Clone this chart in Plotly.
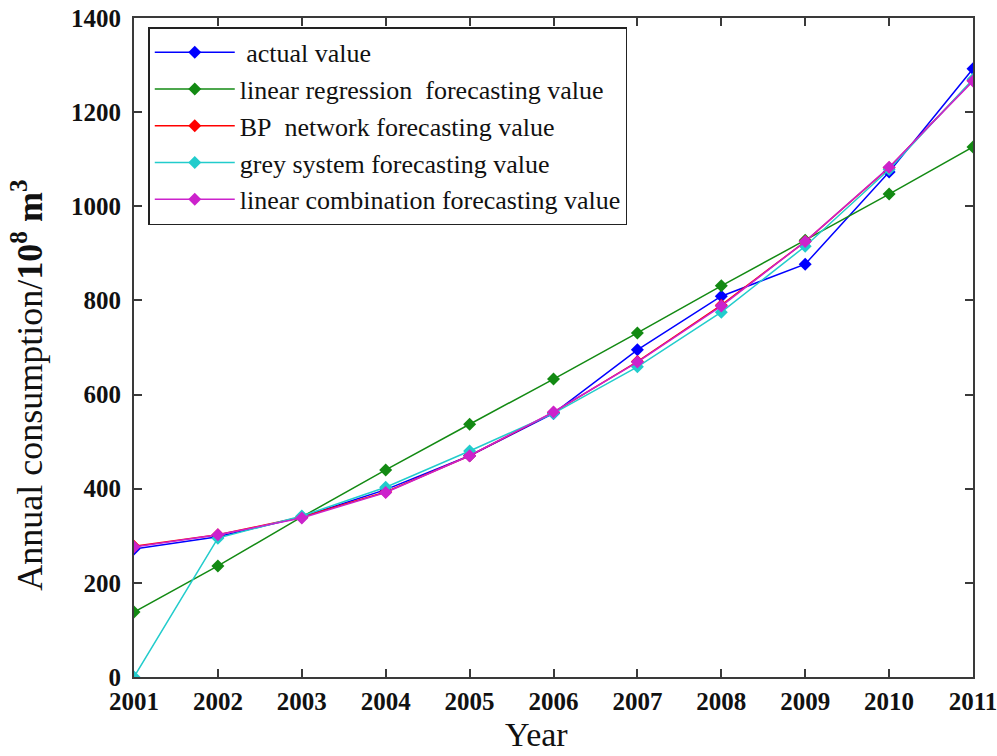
import plotly.graph_objects as go

years = [2001, 2002, 2003, 2004, 2005, 2006, 2007, 2008, 2009, 2010, 2011]

actual_value = [272, 298, 340, 398, 470, 560, 695, 809, 877, 1073, 1292]
linear_regression = [138, 236, 340, 440, 537, 633, 731, 831, 928, 1026, 1126]
bp_network = [278, 302, 340, 393, 470, 562, 670, 790, 925, 1082, 1268]
grey_system = [0, 295, 342, 403, 480, 560, 659, 775, 915, 1078, 1270]
linear_combination = [276, 302, 338, 392, 470, 563, 669, 788, 925, 1083, 1266]

series = [
    ("\u00a0actual value", actual_value, "#0000ff"),
    ("linear regression\u00a0 forecasting value", linear_regression, "#138a13"),
    ("BP\u00a0 network forecasting value", bp_network, "#ff0000"),
    ("grey system forecasting value", grey_system, "#22cccc"),
    ("linear combination forecasting value", linear_combination, "#cc22cc"),
]

fig = go.Figure()
for i, (name, vals, color) in enumerate(series):
    fig.add_trace(go.Scatter(
        x=years, y=vals, name=name, mode="lines+markers",
        legendgroup=f"g{i}",
        line=dict(color=color, width=1.5),
        marker=dict(symbol="diamond", size=10, color=color),
    ))

serif = "Liberation Serif"

axis_common = dict(
    showline=True, linecolor="#3a3a3a", linewidth=2, mirror="ticks",
    ticks="inside", ticklen=8, tickwidth=1.5, tickcolor="#3a3a3a",
    showgrid=False, zeroline=False, automargin=False,
    ticklabeloverflow="allow",
    tickfont=dict(family=serif, size=25, color="#111111", weight="bold"),
)

fig.update_xaxes(range=[2001, 2011], tickvals=years, ticklabelstandoff=1, **axis_common)
fig.update_yaxes(range=[0, 1400], tickvals=list(range(0, 1401, 200)),
                 ticklabelstandoff=6, **axis_common)

fig.update_layout(
    width=997, height=756,
    margin=dict(l=134, r=24, t=18, b=79),
    plot_bgcolor="white", paper_bgcolor="white",
    showlegend=True,
    legend=dict(
        x=0.017, y=0.986, xanchor="left", yanchor="top",
        bordercolor="#222222", borderwidth=1.5, bgcolor="white",
        font=dict(family=serif, size=26, color="#111111"),
        tracegroupgap=0, itemwidth=80,
    ),
    annotations=[
        dict(text="Annual consumption/<b>10<sup>8</sup> m<sup>3</sup></b>",
             xref="paper", yref="paper", x=-0.128, y=0.443,
             xanchor="center", yanchor="middle", textangle=-90, showarrow=False,
             font=dict(family=serif, size=36, color="#111111")),
        dict(text="Year", xref="paper", yref="paper", x=0.48, y=-0.088,
             xanchor="center", yanchor="middle", showarrow=False,
             font=dict(family=serif, size=34, color="#111111")),
    ],
)

fig.write_html("out.html")
